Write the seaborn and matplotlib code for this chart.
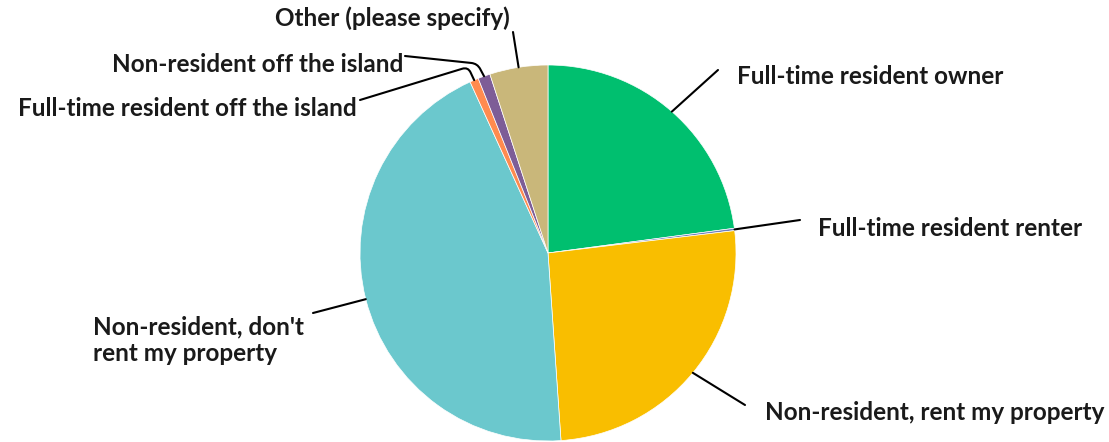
import numpy as np
import matplotlib
matplotlib.use("Agg")
import matplotlib.pyplot as plt
import seaborn as sns

sns.set_theme(style="white")
plt.rcParams['font.family'] = ['Lato', 'DejaVu Sans']

categories = [
    "Full-time resident owner",
    "Full-time resident renter",
    "Non-resident, rent my property",
    "Non-resident, don't\nrent my property",
    "Full-time resident off the island",
    "Non-resident off the island",
    "Other (please specify)",
]
values = [22.9, 0.2, 25.8, 44.3, 0.75, 1.05, 5.0]
colors = ["#00BF6F", "#6F7FBF", "#F9BE00", "#6BC8CD", "#FF8B4F", "#7D5D97", "#C9B77A"]

W, H = 1109, 442
fig = plt.figure(figsize=(W / 100, H / 100), dpi=100)
ax = fig.add_axes([0, 0, 1, 1])

cx, cy, r = 548, H - 253, 188
wedges, _ = ax.pie(values, colors=colors, startangle=90, counterclock=False,
                   center=(cx, cy), radius=r, frame=True,
                   wedgeprops=dict(linewidth=0.5, edgecolor="white"))
ax.set_xlim(0, W)
ax.set_ylim(0, H)
ax.set_aspect("equal")
ax.axis("off")

# label layout: (text x, text y [px from top], ha, leader end x, end y, connection)
layout = [
    (737, 77, "left", 718, 70, "arc3,rad=0"),
    (818, 228, "left", 800, 220, "arc3,rad=0"),
    (765, 413, "left", 745, 405, "arc3,rad=0"),
    (93, 340, "left", 313, 313, "arc3,rad=0"),
    (357, 109, "right", 360, 100, "angle,angleA=17,angleB=115,rad=6"),
    (403, 64, "right", 405, 56, "angle,angleA=-6,angleB=118,rad=6"),
    (510, 18, "right", 513, 32, "arc3,rad=0"),
]

for w, lab, (tx, ty, ha, ex, ey, cs) in zip(wedges, categories, layout):
    mid = np.deg2rad((w.theta1 + w.theta2) / 2)
    px, py = cx + r * np.cos(mid), cy + r * np.sin(mid)
    ax.annotate("", xy=(px, py), xytext=(ex, H - ey),
                arrowprops=dict(arrowstyle="-", color="black", lw=1.5,
                                shrinkA=0, shrinkB=0, connectionstyle=cs))
    ax.text(tx, H - ty, lab, ha=ha, va="center", fontsize=17.5,
            fontweight="bold", color="#1a1a1a", linespacing=1.2)

fig.savefig("out.png", dpi=100)
